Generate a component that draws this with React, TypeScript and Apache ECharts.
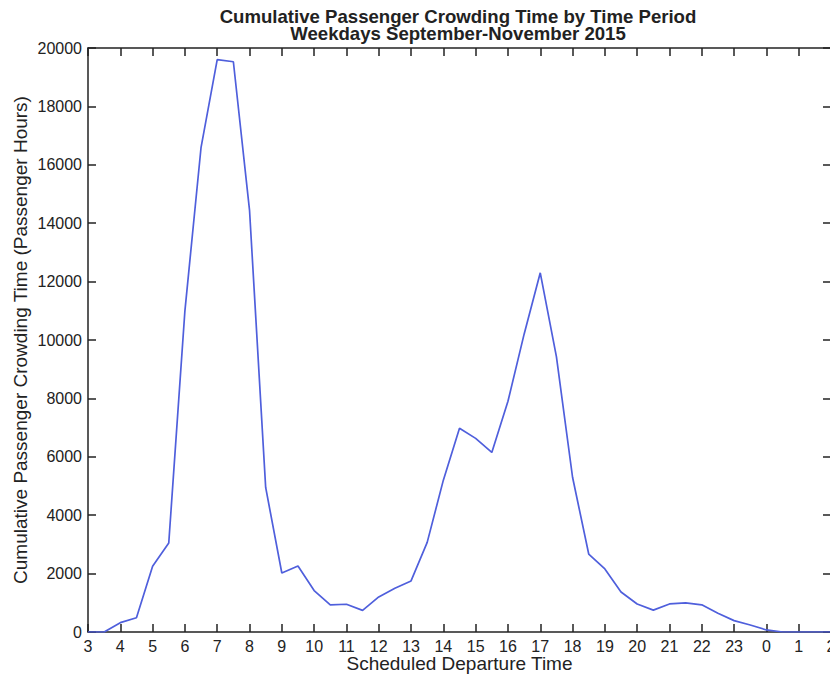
import React, { useEffect, useRef } from "react";
import * as echarts from "echarts";

const hours = [3, 3.5, 4, 4.5, 5, 5.5, 6, 6.5, 7, 7.5, 8, 8.5, 9, 9.5, 10, 10.5, 11, 11.5, 12, 12.5, 13, 13.5, 14, 14.5, 15, 15.5, 16, 16.5, 17, 17.5, 18, 18.5, 19, 19.5, 20, 20.5, 21, 21.5, 22, 22.5, 23, 23.5, 24, 24.5, 25, 25.5, 26];
const crowding = [0, 0, 320, 490, 2250, 3050, 11000, 16600, 19600, 19530, 14450, 4950, 2020, 2260, 1420, 930, 950, 740, 1200, 1500, 1750, 3070, 5200, 6980, 6630, 6150, 7900, 10200, 12300, 9430, 5300, 2670, 2160, 1370, 960, 750, 960, 1000, 930, 640, 390, 240, 70, 0, 0, 0, 0];

const titleLines = ["Cumulative Passenger Crowding Time by Time Period", "Weekdays September-November 2015"];
const xName = "Scheduled Departure Time";
const yName = "Cumulative Passenger Crowding Time (Passenger Hours)";

export default function App() {
  const ref = useRef<HTMLDivElement>(null);
  useEffect(() => {
    if (!ref.current) return;
    const chart = echarts.init(ref.current, null, { renderer: "svg" });
    const font = "Liberation Sans, Arial, Helvetica, sans-serif";
    const ink = "#222222";
    const axisCommon = {
      type: "value" as const,
      axisLine: { show: true, onZero: false, lineStyle: { color: ink, width: 1.5 } },
      axisTick: { show: true, inside: true, length: 8, lineStyle: { color: ink, width: 1.5 } },
      splitLine: { show: false },
    };
    const titleStyle = {
      fontFamily: font,
      fontWeight: "bold",
      fontSize: 18.6,
      lineHeight: 17,
      fill: ink,
      textAlign: "center",
      textVerticalAlign: "middle",
    };
    chart.setOption({
      animation: false,
      backgroundColor: "#ffffff",
      graphic: [
        { type: "text", x: 458, y: 16.5, style: { ...titleStyle, text: titleLines[0] } },
        { type: "text", x: 458, y: 33.8, style: { ...titleStyle, text: titleLines[1] } },
      ],
      grid: { left: 88, top: 48, width: 743, height: 584, containLabel: false, outerBoundsMode: "none" },
      xAxis: [
        {
          ...axisCommon,
          min: 3,
          max: 26,
          interval: 1,
          position: "bottom",
          name: xName,
          nameLocation: "middle",
          nameGap: 22,
          nameMoveOverlap: false,
          nameTextStyle: { fontFamily: font, fontSize: 19, lineHeight: 19, color: ink },
          axisLabel: {
            fontFamily: font,
            fontSize: 16,
            color: ink,
            margin: 6,
            formatter: (v: number) => String(v % 24),
          },
        },
        {
          ...axisCommon,
          min: 3,
          max: 26,
          interval: 1,
          position: "top",
          axisLabel: { show: false },
        },
      ],
      yAxis: [
        {
          ...axisCommon,
          min: 0,
          max: 20000,
          interval: 2000,
          position: "left",
          name: yName,
          nameLocation: "middle",
          nameGap: 58,
          nameMoveOverlap: false,
          nameTextStyle: { fontFamily: font, fontSize: 19, color: ink },
          axisLabel: { fontFamily: font, fontSize: 16, color: ink, margin: 6, formatter: (v: number) => String(v) },
        },
        {
          ...axisCommon,
          min: 0,
          max: 20000,
          interval: 2000,
          position: "right",
          axisLabel: { show: false },
        },
      ],
      series: [
        {
          type: "line",
          data: hours.map((h, i) => [h, crowding[i]]),
          showSymbol: false,
          symbol: "none",
          lineStyle: { color: "#4f5fdc", width: 1.7 },
          clip: true,
        },
      ],
    });
    return () => chart.dispose();
  }, []);
  return (
    <div style={{ position: "fixed", left: 0, top: 0, width: 830, height: 674, overflow: "hidden", background: "#fff" }}>
      <div ref={ref} style={{ width: 880, height: 674 }} />
    </div>
  );
}
